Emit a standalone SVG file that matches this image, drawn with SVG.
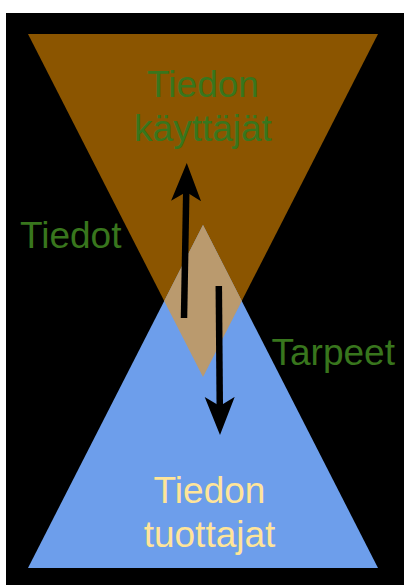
<svg xmlns="http://www.w3.org/2000/svg" width="404" height="585" viewBox="0 0 404 585">
  <style>
    .lbl { font-family: "Liberation Sans", Arial, sans-serif; font-size: 37px; }
    .green { fill: #38761D; }
    .yellow { fill: #FFE599; }
    .mid { text-anchor: middle; }
  </style>
  <defs>
    <marker id="head" markerUnits="userSpaceOnUse" viewBox="0 -16 40 32" refX="12" refY="0" markerWidth="40" markerHeight="32" orient="auto">
      <path d="M0,-15 L38,0 L0,15 L9,0 Z" fill="#000"/>
    </marker>
  </defs>
  <rect x="0" y="0" width="404" height="585" fill="#ffffff"/>
  <rect x="6" y="13" width="398" height="572" fill="#000000"/>

  <g id="users">
    <polygon points="28,34 378,34 203,377" fill="#8B5500"/>
    <text class="lbl green mid" x="203" y="97">Tiedon</text>
    <text class="lbl green mid" x="203" y="141">käyttäjät</text>
  </g>

  <g id="producers">
    <polygon points="203,225 378,568 28,568" fill="#6D9EEB"/>
    <text class="lbl yellow mid" x="209.5" y="503">Tiedon</text>
    <text class="lbl yellow mid" x="209.5" y="547">tuottajat</text>
  </g>

  <g id="overlap">
    <polygon points="203,225 241.8,301 203,377 164.2,301" fill="#BA9A6E"/>
  </g>

  <g id="tiedot">
    <text class="lbl green" x="20" y="248">Tiedot</text>
  </g>

  <g id="tarpeet">
    <text class="lbl green" x="271.5" y="365">Tarpeet</text>
  </g>

  <g id="connectors" stroke="#000" stroke-width="6.5" fill="none">
    <line x1="184" y1="318" x2="186.3" y2="189" marker-end="url(#head)"/>
    <line x1="218.8" y1="286" x2="219.8" y2="409" marker-end="url(#head)"/>
  </g>
</svg>
